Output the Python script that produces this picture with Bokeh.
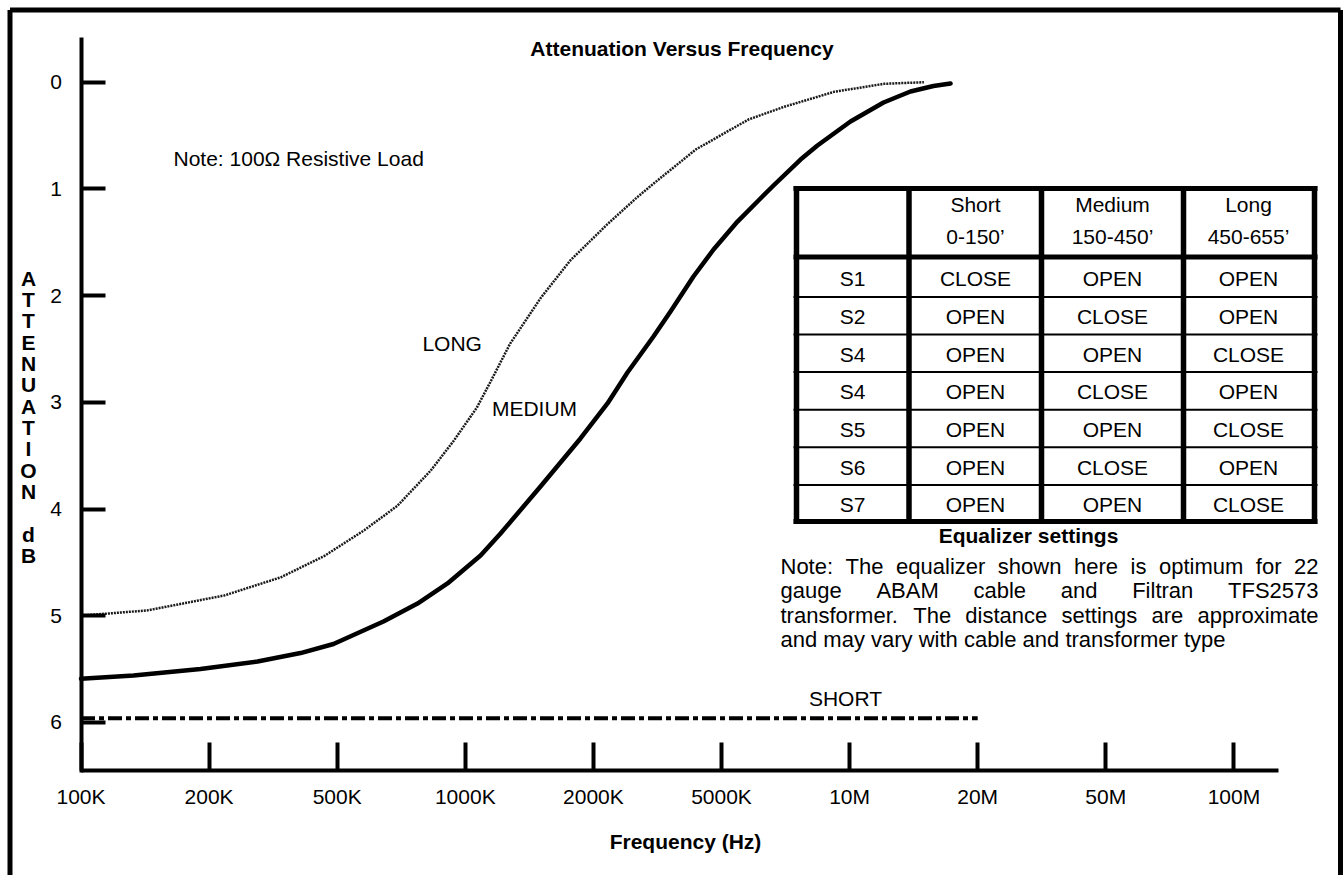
from bokeh.plotting import figure
from bokeh.models import Range1d, LinearAxis, FixedTicker
from bokeh.core.properties import value
from bokeh.embed import file_html
from bokeh.resources import INLINE

# ---------------- data ----------------
freq_labels = ["100K", "200K", "500K", "1000K", "2000K", "5000K", "10M", "20M", "50M", "100M"]
freq_pos = list(range(len(freq_labels)))
atten_ticks = [0, 1, 2, 3, 4, 5, 6]

long_x = [0.0, 0.52, 1.12, 1.56, 1.90, 2.21, 2.47, 2.73, 2.91, 3.09, 3.20, 3.35, 3.59,
          3.82, 4.11, 4.34, 4.47, 4.80, 5.21, 5.49, 5.88, 6.27, 6.58]
long_db = [5.00, 4.95, 4.81, 4.64, 4.44, 4.20, 3.97, 3.64, 3.36, 3.05, 2.80, 2.45, 2.02,
           1.67, 1.33, 1.08, 0.95, 0.63, 0.35, 0.23, 0.09, 0.015, 0.0]

medium_x = [0.0, 0.41, 0.933, 1.378, 1.714, 1.971, 2.361, 2.627, 2.861, 3.119, 3.275,
            3.587, 3.899, 4.110, 4.266, 4.469, 4.602, 4.781, 4.938, 5.125, 5.304, 5.406,
            5.617, 5.749, 6.007, 6.265, 6.475, 6.655, 6.788]
medium_db = [5.591, 5.560, 5.499, 5.429, 5.350, 5.265, 5.054, 4.886, 4.698, 4.436, 4.230,
             3.789, 3.339, 3.011, 2.721, 2.383, 2.149, 1.821, 1.568, 1.306, 1.090, 0.968,
             0.725, 0.593, 0.368, 0.190, 0.087, 0.036, 0.012]

short_x = [0, 7]
short_db = [5.96, 5.96]

col_names = ["Short", "Medium", "Long"]
col_ranges = ["0-150\u2019", "150-450\u2019", "450-655\u2019"]
switches = ["S1", "S2", "S4", "S4", "S5", "S6", "S7"]
short_set = ["CLOSE", "OPEN", "OPEN", "OPEN", "OPEN", "OPEN", "OPEN"]
medium_set = ["OPEN", "CLOSE", "OPEN", "CLOSE", "OPEN", "CLOSE", "OPEN"]
long_set = ["OPEN", "OPEN", "CLOSE", "OPEN", "CLOSE", "OPEN", "CLOSE"]

title_text = "Attenuation Versus Frequency"
load_note = "Note: 100\u03a9 Resistive Load"
table_caption = "Equalizer settings"
note_lines = ["Note:  The equalizer shown here is optimum for 22",
              "gauge ABAM cable and Filtran TFS2573",
              "transformer. The distance settings are approximate",
              "and may vary with cable and transformer type"]
y_title_letters = list("ATTENUATION dB")
x_title = "Frequency (Hz)"

# ---------------- layout helpers ----------------
W, H = 1343, 875
X0, DX = 80.5, 128.1      # px of index 0, px per step
Y0, DY = 81.7, 106.7      # px of 0 dB, px per dB
FONT = "Liberation Sans"


def fx(px):
    return (px - X0) / DX


def fy(py):
    return (py - Y0) / DY


p = figure(width=W, height=H, output_backend="svg", toolbar_location=None, tools="",
           x_range=Range1d(fx(0), fx(W)), y_range=Range1d(fy(H), fy(0)),
           x_axis_location=None, y_axis_location=None, min_border=0)
p.grid.grid_line_color = None
p.outline_line_color = None
p.background_fill_color = "white"
p.border_fill_color = "white"

# axes
yax = LinearAxis(fixed_location=0, ticker=FixedTicker(ticks=atten_ticks),
                 bounds=(fy(37), fy(772)),
                 axis_line_width=4, axis_line_color="black",
                 major_tick_line_width=4, major_tick_line_color="black",
                 major_tick_in=24, major_tick_out=0, minor_tick_in=0, minor_tick_out=0,
                 major_label_standoff=19, major_label_text_font=FONT,
                 major_label_text_font_size="21px", major_label_text_color="black")
p.add_layout(yax, "left")

xax = LinearAxis(fixed_location=fy(770), ticker=FixedTicker(ticks=freq_pos),
                 bounds=(0, fx(1278)),
                 major_label_overrides={i: lab for i, lab in zip(freq_pos, freq_labels)},
                 axis_line_width=4, axis_line_color="black",
                 major_tick_line_width=4, major_tick_line_color="black",
                 major_tick_in=28, major_tick_out=0, minor_tick_in=0, minor_tick_out=0,
                 major_label_standoff=14, major_label_text_font=FONT,
                 major_label_text_font_size="21px", major_label_text_color="black")
p.add_layout(xax, "below")

# curves
p.line(short_x, short_db, line_width=4, color="black", line_dash="14 4 5 4")
p.line(long_x, long_db, line_width=2.5, color="#1a1a1a", line_dash="2 1", line_join="round")
p.line(medium_x, medium_db, line_width=4.5, color="black", line_join="round", line_cap="round")


def txt(xs, ys, texts, size="21px", bold=False, align="center"):
    p.text(x=[fx(v) for v in xs], y=[fy(v) for v in ys], text=texts,
           text_font=value(FONT), text_font_size=size,
           text_font_style="bold" if bold else "normal",
           text_align=align, text_baseline="middle", text_color="black")


# outer frame border (left, top, right)
bx0, bx1, by0, by1 = 9.5, 1340.0, 9.5, H + 5
p.segment(x0=[fx(bx0), fx(bx0), fx(bx1)], y0=[fy(by1), fy(by0), fy(by0)],
          x1=[fx(bx0), fx(bx1), fx(bx1)], y1=[fy(by0), fy(by0), fy(by1)],
          line_width=5, color="black")

# titles and labels (y = visual centre of capitals)
txt([681.5], [47.5], [title_text], bold=True)
txt([685], [840.5], [x_title], bold=True)
txt([173], [157.5], [load_note], align="left")
txt([451.7], [342.5], ["LONG"])
txt([534], [408.2], ["MEDIUM"])
txt([845], [698.2], ["SHORT"])
letters = [c for c in y_title_letters]
txt([28] * len(letters), [277.5 + 21.35 * k for k in range(len(letters))], letters, bold=True)

# table
vx = [796, 908.5, 1041, 1183, 1314]
p.segment(x0=[fx(v) for v in vx], y0=[fy(185.5)] * len(vx), x1=[fx(v) for v in vx],
          y1=[fy(523.5)] * len(vx), line_width=5.5, color="black")
row_b = [256.5, 296.5, 334, 371.6, 409.2, 446.8, 484.4, 521]
thick = [188, 256.5, 521]
p.segment(x0=[fx(793)] * 3, y0=[fy(v) for v in thick], x1=[fx(1317)] * 3,
          y1=[fy(v) for v in thick], line_width=5, color="black")
thin = row_b[1:-1]
p.segment(x0=[fx(793)] * len(thin), y0=[fy(v) for v in thin], x1=[fx(1317)] * len(thin),
          y1=[fy(v) for v in thin], line_width=2, color="black")
col_c = [852, 975, 1112, 1248]
txt(col_c[1:], [204.2] * 3, col_names)
txt(col_c[1:], [235.8] * 3, col_ranges)
row_c = [(row_b[k] + row_b[k + 1]) / 2 + 1 for k in range(7)]
for ci, col in enumerate([switches, short_set, medium_set, long_set]):
    txt([col_c[ci]] * len(col), row_c, col)
txt([1028], [534.5], [table_caption], bold=True)

# justified note
AW = {' ': 278, '.': 278, ':': 278, "'": 191}
for ch in "abdeghnopqu":
    AW[ch] = 556
for ch in "ckvxyzs":
    AW[ch] = 500
AW.update({'f': 278, 'i': 222, 'j': 222, 'l': 222, 'm': 833, 'r': 333, 't': 278, 'w': 722})
AW.update({'A': 667, 'B': 667, 'C': 722, 'F': 611, 'M': 833, 'N': 722, 'S': 667, 'T': 611})
for ch in "0123456789":
    AW[ch] = 556
NFS = 22
left_x, right_x = 780, 1318
mid_y = [565.8, 590.3, 614.8, 639.3]
for li, line in enumerate(note_lines):
    if li == len(note_lines) - 1:
        txt([left_x], [mid_y[li]], [line], size=f"{NFS}px", align="left")
        continue
    words = line.split()
    widths = [sum(AW.get(c, 556) for c in w) / 1000 * NFS for w in words]
    gap = (right_x - left_x - sum(widths)) / (len(words) - 1)
    xs, cur = [], left_x
    for wdt in widths:
        xs.append(cur)
        cur += wdt + gap
    txt(xs, [mid_y[li]] * len(words), words, size=f"{NFS}px", align="left")

open("out.html", "w").write(file_html(p, INLINE))
